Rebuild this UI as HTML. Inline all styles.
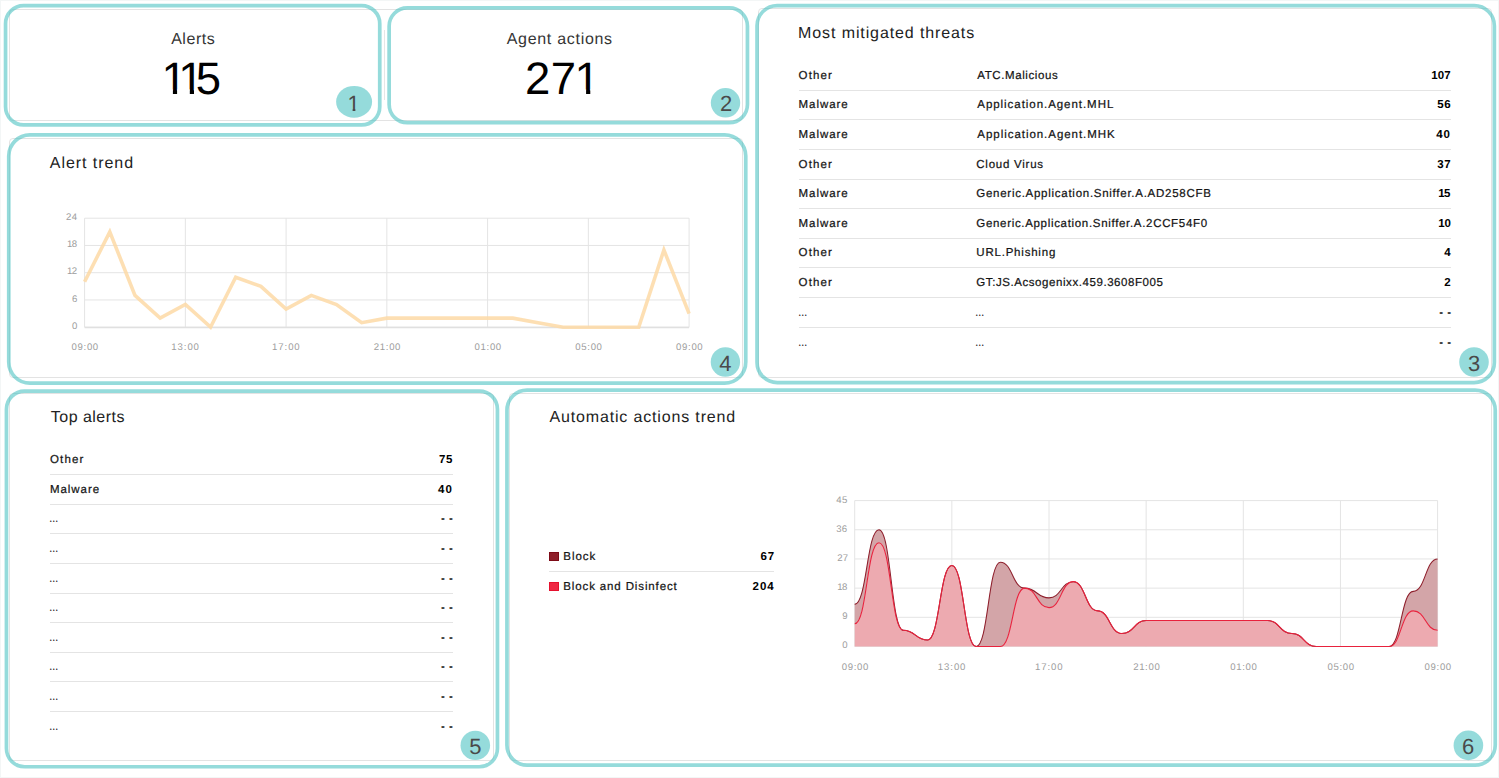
<!DOCTYPE html><html><head><meta charset="utf-8"><title>Dashboard</title><style>
*{box-sizing:border-box;margin:0;padding:0}
html,body{width:1499px;height:778px;overflow:hidden;background:#fff}
body{position:relative;font-family:"Liberation Sans", sans-serif;color:#1d1d1d;text-rendering:geometricPrecision}
.edge{position:absolute;left:0;top:0;width:1499px;height:778px;border:1px solid #f3f6f6;pointer-events:none}
.card{position:absolute;border:1px solid #e3e3e3;border-radius:4px;background:#fff}
.t{position:absolute;white-space:nowrap;line-height:1;z-index:3}
svg text{font-family:"Liberation Sans", sans-serif}

</style></head><body>
<div class="edge"></div>
<div class="card" style="left:9px;top:9px;width:734px;height:112px"></div>
<div class="card" style="left:9px;top:138px;width:734px;height:240px"></div>
<div class="card" style="left:758px;top:8px;width:734px;height:370px"></div>
<div class="card" style="left:9px;top:393px;width:485px;height:368px"></div>
<div class="card" style="left:509px;top:393px;width:983px;height:368px"></div>
<div style="position:absolute;left:384px;top:30px;width:1px;height:70px;background:#e6e6e6"></div>
<div style="position:absolute;left:798.7px;top:90px;width:652.3px;height:1px;background:#e4e4e4"></div>
<div style="position:absolute;left:798.7px;top:119px;width:652.3px;height:1px;background:#e4e4e4"></div>
<div style="position:absolute;left:798.7px;top:149px;width:652.3px;height:1px;background:#e4e4e4"></div>
<div style="position:absolute;left:798.7px;top:179px;width:652.3px;height:1px;background:#e4e4e4"></div>
<div style="position:absolute;left:798.7px;top:208px;width:652.3px;height:1px;background:#e4e4e4"></div>
<div style="position:absolute;left:798.7px;top:238px;width:652.3px;height:1px;background:#e4e4e4"></div>
<div style="position:absolute;left:798.7px;top:267px;width:652.3px;height:1px;background:#e4e4e4"></div>
<div style="position:absolute;left:798.7px;top:297px;width:652.3px;height:1px;background:#e4e4e4"></div>
<div style="position:absolute;left:798.7px;top:327px;width:652.3px;height:1px;background:#e4e4e4"></div>
<div style="position:absolute;left:49.9px;top:474px;width:402.9px;height:1px;background:#e4e4e4"></div>
<div style="position:absolute;left:49.9px;top:504px;width:402.9px;height:1px;background:#e4e4e4"></div>
<div style="position:absolute;left:49.9px;top:533px;width:402.9px;height:1px;background:#e4e4e4"></div>
<div style="position:absolute;left:49.9px;top:563px;width:402.9px;height:1px;background:#e4e4e4"></div>
<div style="position:absolute;left:49.9px;top:593px;width:402.9px;height:1px;background:#e4e4e4"></div>
<div style="position:absolute;left:49.9px;top:622px;width:402.9px;height:1px;background:#e4e4e4"></div>
<div style="position:absolute;left:49.9px;top:652px;width:402.9px;height:1px;background:#e4e4e4"></div>
<div style="position:absolute;left:49.9px;top:681px;width:402.9px;height:1px;background:#e4e4e4"></div>
<div style="position:absolute;left:49.9px;top:711px;width:402.9px;height:1px;background:#e4e4e4"></div>
<div style="position:absolute;left:549.3px;top:571px;width:224.8px;height:1px;background:#e4e4e4"></div>
<div style="position:absolute;left:549.2px;top:552.1px;width:9.6px;height:8.8px;background:#8f1f2a;border:1px solid #7d0b17"></div>
<div style="position:absolute;left:549.2px;top:581.8px;width:9.6px;height:8.9px;background:#ef2944;border:1px solid #e5112e"></div>
<div class="t" style="left:171.15px;top:32px;font-size:16px;letter-spacing:0.54px;color:#353535">Alerts</div>
<div class="t" style="left:506.65px;top:32px;font-size:16px;letter-spacing:0.71px;color:#353535">Agent actions</div>
<div class="t" style="left:161.4px;top:56px;font-size:45.5px;letter-spacing:0px;color:#000;clip-path:polygon(0 0,100% 0,100% 33.4px,15.7px 33.4px,15.7px 100%,11.5px 100%,11.5px 33.4px,0 33.4px)">1</div>
<div class="t" style="left:178.3px;top:56px;font-size:45.5px;letter-spacing:0px;color:#000;clip-path:polygon(0 0,100% 0,100% 33.4px,15.7px 33.4px,15.7px 100%,11.5px 100%,11.5px 33.4px,0 33.4px)">1</div>
<div class="t" style="left:195.75px;top:56px;font-size:45.5px;letter-spacing:0px;color:#000">5</div>
<div class="t" style="left:525.05px;top:56px;font-size:45.5px;letter-spacing:0px;color:#000">2</div>
<div class="t" style="left:550.75px;top:56px;font-size:45.5px;letter-spacing:0px;color:#000">7</div>
<div class="t" style="left:574.6px;top:56px;font-size:45.5px;letter-spacing:0px;color:#000;clip-path:polygon(0 0,100% 0,100% 33.4px,15.7px 33.4px,15.7px 100%,11.5px 100%,11.5px 33.4px,0 33.4px)">1</div>
<div class="t" style="left:798.1px;top:26px;font-size:16px;letter-spacing:0.89px;color:#222">Most mitigated threats</div>
<div class="t" style="left:49.8px;top:156px;font-size:16px;letter-spacing:0.95px;color:#222">Alert trend</div>
<div class="t" style="left:50.8px;top:410px;font-size:16px;letter-spacing:0.47px;color:#222">Top alerts</div>
<div class="t" style="left:549.5px;top:410px;font-size:16px;letter-spacing:0.84px;color:#222">Automatic actions trend</div>
<div class="t" style="left:798.6px;top:71.4px;font-size:11.5px;letter-spacing:1.12px;color:#141414;-webkit-text-stroke:0.22px #141414">Other</div>
<div class="t" style="left:977.3px;top:71.4px;font-size:11.5px;letter-spacing:0.6px;color:#141414;-webkit-text-stroke:0.22px #141414">ATC.Malicious</div>
<div class="t" style="left:1431.2px;top:71.4px;font-size:11.5px;letter-spacing:0.13px;color:#000;font-weight:700">107</div>
<div class="t" style="left:798.6px;top:100.4px;font-size:11.5px;letter-spacing:0.94px;color:#141414;-webkit-text-stroke:0.22px #141414">Malware</div>
<div class="t" style="left:977.3px;top:100.4px;font-size:11.5px;letter-spacing:0.95px;color:#141414;-webkit-text-stroke:0.22px #141414">Application.Agent.MHL</div>
<div class="t" style="left:1437.2px;top:100.4px;font-size:11.5px;letter-spacing:0.75px;color:#000;font-weight:700">56</div>
<div class="t" style="left:798.6px;top:130.4px;font-size:11.5px;letter-spacing:0.94px;color:#141414;-webkit-text-stroke:0.22px #141414">Malware</div>
<div class="t" style="left:977.3px;top:130.4px;font-size:11.5px;letter-spacing:0.96px;color:#141414;-webkit-text-stroke:0.22px #141414">Application.Agent.MHK</div>
<div class="t" style="left:1436.2px;top:130.4px;font-size:11.5px;letter-spacing:1px;color:#000;font-weight:700">40</div>
<div class="t" style="left:798.6px;top:160.4px;font-size:11.5px;letter-spacing:1.12px;color:#141414;-webkit-text-stroke:0.22px #141414">Other</div>
<div class="t" style="left:976.3px;top:160.4px;font-size:11.5px;letter-spacing:0.75px;color:#141414;-webkit-text-stroke:0.22px #141414">Cloud Virus</div>
<div class="t" style="left:1437.2px;top:160.4px;font-size:11.5px;letter-spacing:0.58px;color:#000;font-weight:700">37</div>
<div class="t" style="left:798.6px;top:189.4px;font-size:11.5px;letter-spacing:0.94px;color:#141414;-webkit-text-stroke:0.22px #141414">Malware</div>
<div class="t" style="left:976.3px;top:189.4px;font-size:11.5px;letter-spacing:0.73px;color:#141414;-webkit-text-stroke:0.22px #141414">Generic.Application.Sniffer.A.AD258CFB</div>
<div class="t" style="left:1438.2px;top:189.4px;font-size:11.5px;letter-spacing:-0.5px;color:#000;font-weight:700">15</div>
<div class="t" style="left:798.6px;top:219.4px;font-size:11.5px;letter-spacing:0.94px;color:#141414;-webkit-text-stroke:0.22px #141414">Malware</div>
<div class="t" style="left:976.3px;top:219.4px;font-size:11.5px;letter-spacing:0.68px;color:#141414;-webkit-text-stroke:0.22px #141414">Generic.Application.Sniffer.A.2CCF54F0</div>
<div class="t" style="left:1438.2px;top:219.4px;font-size:11.5px;letter-spacing:-0.19px;color:#000;font-weight:700">10</div>
<div class="t" style="left:798.6px;top:248.4px;font-size:11.5px;letter-spacing:1.12px;color:#141414;-webkit-text-stroke:0.22px #141414">Other</div>
<div class="t" style="left:976.3px;top:248.4px;font-size:11.5px;letter-spacing:0.79px;color:#141414;-webkit-text-stroke:0.22px #141414">URL.Phishing</div>
<div class="t" style="left:1444.2px;top:248.4px;font-size:11.5px;letter-spacing:0px;color:#000;font-weight:700">4</div>
<div class="t" style="left:798.6px;top:278.4px;font-size:11.5px;letter-spacing:1.12px;color:#141414;-webkit-text-stroke:0.22px #141414">Other</div>
<div class="t" style="left:976.3px;top:278.4px;font-size:11.5px;letter-spacing:0.57px;color:#141414;-webkit-text-stroke:0.22px #141414">GT:JS.Acsogenixx.459.3608F005</div>
<div class="t" style="left:1444.2px;top:278.4px;font-size:11.5px;letter-spacing:0px;color:#000;font-weight:700">2</div>
<div class="t" style="left:797.76px;top:308.4px;font-size:11.5px;letter-spacing:0px;color:#141414;-webkit-text-stroke:0.22px #141414;transform:scaleX(0.82);transform-origin:0 0">&hellip;</div>
<div class="t" style="left:975.46px;top:308.4px;font-size:11.5px;letter-spacing:0px;color:#141414;-webkit-text-stroke:0.22px #141414;transform:scaleX(0.82);transform-origin:0 0">&hellip;</div>
<div class="t" style="left:1439.2px;top:308.4px;font-size:11.5px;letter-spacing:0.46px;color:#000;font-weight:700">- -</div>
<div class="t" style="left:797.76px;top:338.4px;font-size:11.5px;letter-spacing:0px;color:#141414;-webkit-text-stroke:0.22px #141414;transform:scaleX(0.82);transform-origin:0 0">&hellip;</div>
<div class="t" style="left:975.46px;top:338.4px;font-size:11.5px;letter-spacing:0px;color:#141414;-webkit-text-stroke:0.22px #141414;transform:scaleX(0.82);transform-origin:0 0">&hellip;</div>
<div class="t" style="left:1439.2px;top:338.4px;font-size:11.5px;letter-spacing:0.46px;color:#000;font-weight:700">- -</div>
<div class="t" style="left:50px;top:455.4px;font-size:11.5px;letter-spacing:1.12px;color:#141414;-webkit-text-stroke:0.22px #141414">Other</div>
<div class="t" style="left:439.1px;top:455.4px;font-size:11.5px;letter-spacing:0.56px;color:#000;font-weight:700">75</div>
<div class="t" style="left:50px;top:485.4px;font-size:11.5px;letter-spacing:0.94px;color:#141414;-webkit-text-stroke:0.22px #141414">Malware</div>
<div class="t" style="left:438.1px;top:485.4px;font-size:11.5px;letter-spacing:1px;color:#000;font-weight:700">40</div>
<div class="t" style="left:49.16px;top:514.4px;font-size:11.5px;letter-spacing:0px;color:#141414;-webkit-text-stroke:0.22px #141414;transform:scaleX(0.82);transform-origin:0 0">&hellip;</div>
<div class="t" style="left:441.1px;top:514.4px;font-size:11.5px;letter-spacing:0.46px;color:#000;font-weight:700">- -</div>
<div class="t" style="left:49.16px;top:544.4px;font-size:11.5px;letter-spacing:0px;color:#141414;-webkit-text-stroke:0.22px #141414;transform:scaleX(0.82);transform-origin:0 0">&hellip;</div>
<div class="t" style="left:441.1px;top:544.4px;font-size:11.5px;letter-spacing:0.46px;color:#000;font-weight:700">- -</div>
<div class="t" style="left:49.16px;top:574.4px;font-size:11.5px;letter-spacing:0px;color:#141414;-webkit-text-stroke:0.22px #141414;transform:scaleX(0.82);transform-origin:0 0">&hellip;</div>
<div class="t" style="left:441.1px;top:574.4px;font-size:11.5px;letter-spacing:0.46px;color:#000;font-weight:700">- -</div>
<div class="t" style="left:49.16px;top:603.4px;font-size:11.5px;letter-spacing:0px;color:#141414;-webkit-text-stroke:0.22px #141414;transform:scaleX(0.82);transform-origin:0 0">&hellip;</div>
<div class="t" style="left:441.1px;top:603.4px;font-size:11.5px;letter-spacing:0.46px;color:#000;font-weight:700">- -</div>
<div class="t" style="left:49.16px;top:633.4px;font-size:11.5px;letter-spacing:0px;color:#141414;-webkit-text-stroke:0.22px #141414;transform:scaleX(0.82);transform-origin:0 0">&hellip;</div>
<div class="t" style="left:441.1px;top:633.4px;font-size:11.5px;letter-spacing:0.46px;color:#000;font-weight:700">- -</div>
<div class="t" style="left:49.16px;top:662.4px;font-size:11.5px;letter-spacing:0px;color:#141414;-webkit-text-stroke:0.22px #141414;transform:scaleX(0.82);transform-origin:0 0">&hellip;</div>
<div class="t" style="left:441.1px;top:662.4px;font-size:11.5px;letter-spacing:0.46px;color:#000;font-weight:700">- -</div>
<div class="t" style="left:49.16px;top:692.4px;font-size:11.5px;letter-spacing:0px;color:#141414;-webkit-text-stroke:0.22px #141414;transform:scaleX(0.82);transform-origin:0 0">&hellip;</div>
<div class="t" style="left:441.1px;top:692.4px;font-size:11.5px;letter-spacing:0.46px;color:#000;font-weight:700">- -</div>
<div class="t" style="left:49.16px;top:722.4px;font-size:11.5px;letter-spacing:0px;color:#141414;-webkit-text-stroke:0.22px #141414;transform:scaleX(0.82);transform-origin:0 0">&hellip;</div>
<div class="t" style="left:441.1px;top:722.4px;font-size:11.5px;letter-spacing:0.46px;color:#000;font-weight:700">- -</div>
<div class="t" style="left:563.3px;top:551.6px;font-size:11.5px;letter-spacing:0.98px;color:#141414;-webkit-text-stroke:0.22px #141414">Block</div>
<div class="t" style="left:760.5px;top:551.6px;font-size:11.5px;letter-spacing:0.88px;color:#000;font-weight:700">67</div>
<div class="t" style="left:563.3px;top:581.6px;font-size:11.5px;letter-spacing:0.87px;color:#141414;-webkit-text-stroke:0.22px #141414">Block and Disinfect</div>
<div class="t" style="left:752.5px;top:581.6px;font-size:11.5px;letter-spacing:1px;color:#000;font-weight:700">204</div>
<div class="t" style="left:72px;top:322px;font-size:9.6px;letter-spacing:0px;color:#9d9d9d">0</div>
<div class="t" style="left:72px;top:295px;font-size:9.6px;letter-spacing:0px;color:#9d9d9d">6</div>
<div class="t" style="left:67px;top:267px;font-size:9.6px;letter-spacing:-0.5px;color:#9d9d9d">12</div>
<div class="t" style="left:67px;top:240px;font-size:9.6px;letter-spacing:-0.5px;color:#9d9d9d">18</div>
<div class="t" style="left:66px;top:213px;font-size:9.6px;letter-spacing:0.45px;color:#9d9d9d">24</div>
<div class="t" style="left:71.6px;top:343px;font-size:9.6px;letter-spacing:0.65px;color:#9d9d9d">09:00</div>
<div class="t" style="left:171.35px;top:343px;font-size:9.6px;letter-spacing:0.9px;color:#9d9d9d">13:00</div>
<div class="t" style="left:272.1px;top:343px;font-size:9.6px;letter-spacing:0.9px;color:#9d9d9d">17:00</div>
<div class="t" style="left:373.85px;top:343px;font-size:9.6px;letter-spacing:0.65px;color:#9d9d9d">21:00</div>
<div class="t" style="left:474.6px;top:343px;font-size:9.6px;letter-spacing:0.65px;color:#9d9d9d">01:00</div>
<div class="t" style="left:575.35px;top:343px;font-size:9.6px;letter-spacing:0.65px;color:#9d9d9d">05:00</div>
<div class="t" style="left:676.1px;top:343px;font-size:9.6px;letter-spacing:0.65px;color:#9d9d9d">09:00</div>
<div class="t" style="left:842.2px;top:641px;font-size:9.6px;letter-spacing:0px;color:#9d9d9d">0</div>
<div class="t" style="left:842.2px;top:612px;font-size:9.6px;letter-spacing:0px;color:#9d9d9d">9</div>
<div class="t" style="left:837.2px;top:583px;font-size:9.6px;letter-spacing:-0.5px;color:#9d9d9d">18</div>
<div class="t" style="left:837.2px;top:554px;font-size:9.6px;letter-spacing:0.21px;color:#9d9d9d">27</div>
<div class="t" style="left:836.2px;top:525px;font-size:9.6px;letter-spacing:0.3px;color:#9d9d9d">36</div>
<div class="t" style="left:836.2px;top:496px;font-size:9.6px;letter-spacing:0.55px;color:#9d9d9d">45</div>
<div class="t" style="left:841.7px;top:663px;font-size:9.6px;letter-spacing:0.65px;color:#9d9d9d">09:00</div>
<div class="t" style="left:937.85px;top:663px;font-size:9.6px;letter-spacing:0.9px;color:#9d9d9d">13:00</div>
<div class="t" style="left:1035px;top:663px;font-size:9.6px;letter-spacing:0.9px;color:#9d9d9d">17:00</div>
<div class="t" style="left:1133.15px;top:663px;font-size:9.6px;letter-spacing:0.65px;color:#9d9d9d">21:00</div>
<div class="t" style="left:1230.3px;top:663px;font-size:9.6px;letter-spacing:0.65px;color:#9d9d9d">01:00</div>
<div class="t" style="left:1327.45px;top:663px;font-size:9.6px;letter-spacing:0.65px;color:#9d9d9d">05:00</div>
<div class="t" style="left:1424.6px;top:663px;font-size:9.6px;letter-spacing:0.65px;color:#9d9d9d">09:00</div>
<div class="t" style="left:347.4px;top:93px;font-size:22px;letter-spacing:0px;color:#4a4a4a;clip-path:polygon(0 0,100% 0,100% 16px,8px 16px,8px 100%,5.2px 100%,5.2px 16px,0 16px)">1</div>
<div class="t" style="left:719.9px;top:93px;font-size:22px;letter-spacing:0px;color:#4a4a4a">2</div>
<div class="t" style="left:1467.9px;top:353px;font-size:22px;letter-spacing:0px;color:#4a4a4a">3</div>
<div class="t" style="left:719.3px;top:353px;font-size:22px;letter-spacing:0px;color:#4a4a4a">4</div>
<div class="t" style="left:469.3px;top:736px;font-size:22px;letter-spacing:0px;color:#4a4a4a">5</div>
<div class="t" style="left:1461.9px;top:736px;font-size:22px;letter-spacing:0px;color:#4a4a4a">6</div>
<svg style="position:absolute;left:0;top:0" width="1499" height="778" viewBox="0 0 1499 778"><line x1="84.6" y1="327.2" x2="689.1" y2="327.2" stroke="#e4e4e4" stroke-width="1"/><line x1="84.6" y1="299.95" x2="689.1" y2="299.95" stroke="#e4e4e4" stroke-width="1"/><line x1="84.6" y1="272.7" x2="689.1" y2="272.7" stroke="#e4e4e4" stroke-width="1"/><line x1="84.6" y1="245.45" x2="689.1" y2="245.45" stroke="#e4e4e4" stroke-width="1"/><line x1="84.6" y1="218.2" x2="689.1" y2="218.2" stroke="#e4e4e4" stroke-width="1"/><line x1="84.6" y1="218.2" x2="84.6" y2="327.2" stroke="#e4e4e4" stroke-width="1"/><line x1="185.35" y1="218.2" x2="185.35" y2="327.2" stroke="#e4e4e4" stroke-width="1"/><line x1="286.1" y1="218.2" x2="286.1" y2="327.2" stroke="#e4e4e4" stroke-width="1"/><line x1="386.85" y1="218.2" x2="386.85" y2="327.2" stroke="#e4e4e4" stroke-width="1"/><line x1="487.6" y1="218.2" x2="487.6" y2="327.2" stroke="#e4e4e4" stroke-width="1"/><line x1="588.35" y1="218.2" x2="588.35" y2="327.2" stroke="#e4e4e4" stroke-width="1"/><line x1="689.1" y1="218.2" x2="689.1" y2="327.2" stroke="#e4e4e4" stroke-width="1"/><line x1="84.6" y1="327.5" x2="689.1" y2="327.5" stroke="#e0e0e0" stroke-width="1.6"/><polyline points="84.6,281.78 109.79,231.82 134.97,295.41 160.16,318.12 185.35,304.49 210.54,327.2 235.72,277.24 260.91,286.32 286.1,309.03 311.29,295.41 336.48,304.49 361.66,322.66 386.85,318.12 412.04,318.12 437.23,318.12 462.41,318.12 487.6,318.12 512.79,318.12 537.98,322.66 563.16,327.2 588.35,327.2 613.54,327.2 638.73,327.2 663.91,249.99 689.1,313.57" fill="none" stroke="#fdd9a6" stroke-opacity="0.85" stroke-width="3.6" stroke-linejoin="miter"/><line x1="854.7" y1="646.5" x2="1437.6" y2="646.5" stroke="#e4e4e4" stroke-width="1"/><line x1="854.7" y1="617.32" x2="1437.6" y2="617.32" stroke="#e4e4e4" stroke-width="1"/><line x1="854.7" y1="588.14" x2="1437.6" y2="588.14" stroke="#e4e4e4" stroke-width="1"/><line x1="854.7" y1="558.96" x2="1437.6" y2="558.96" stroke="#e4e4e4" stroke-width="1"/><line x1="854.7" y1="529.78" x2="1437.6" y2="529.78" stroke="#e4e4e4" stroke-width="1"/><line x1="854.7" y1="500.6" x2="1437.6" y2="500.6" stroke="#e4e4e4" stroke-width="1"/><line x1="854.7" y1="500.6" x2="854.7" y2="646.5" stroke="#e4e4e4" stroke-width="1"/><line x1="951.85" y1="500.6" x2="951.85" y2="646.5" stroke="#e4e4e4" stroke-width="1"/><line x1="1049" y1="500.6" x2="1049" y2="646.5" stroke="#e4e4e4" stroke-width="1"/><line x1="1146.15" y1="500.6" x2="1146.15" y2="646.5" stroke="#e4e4e4" stroke-width="1"/><line x1="1243.3" y1="500.6" x2="1243.3" y2="646.5" stroke="#e4e4e4" stroke-width="1"/><line x1="1340.45" y1="500.6" x2="1340.45" y2="646.5" stroke="#e4e4e4" stroke-width="1"/><line x1="1437.6" y1="500.6" x2="1437.6" y2="646.5" stroke="#e4e4e4" stroke-width="1"/><path d="M854.7 604.35 C866.84 604.35 866.84 529.78 878.99 529.78 C891.13 529.78 891.13 630.29 903.28 630.29 C915.42 630.29 915.42 640.02 927.56 640.02 C939.71 640.02 939.71 565.44 951.85 565.44 C963.99 565.44 963.99 646.5 976.14 646.5 C988.28 646.5 988.28 562.2 1000.42 562.2 C1012.57 562.2 1012.57 588.14 1024.71 588.14 C1036.86 588.14 1036.86 597.87 1049 597.87 C1061.14 597.87 1061.14 581.66 1073.29 581.66 C1085.43 581.66 1085.43 610.84 1097.58 610.84 C1109.72 610.84 1109.72 633.53 1121.86 633.53 C1134.01 633.53 1134.01 620.56 1146.15 620.56 C1158.29 620.56 1158.29 620.56 1170.44 620.56 C1182.58 620.56 1182.58 620.56 1194.72 620.56 C1206.87 620.56 1206.87 620.56 1219.01 620.56 C1231.16 620.56 1231.16 620.56 1243.3 620.56 C1255.44 620.56 1255.44 620.56 1267.59 620.56 C1279.73 620.56 1279.73 633.53 1291.88 633.53 C1304.02 633.53 1304.02 646.5 1316.16 646.5 C1328.31 646.5 1328.31 646.5 1340.45 646.5 C1352.59 646.5 1352.59 646.5 1364.74 646.5 C1376.88 646.5 1376.88 646.5 1389.03 646.5 C1401.17 646.5 1401.17 591.38 1413.31 591.38 C1425.46 591.38 1425.46 558.96 1437.6 558.96 L1437.6 630.29 C1425.46 630.29 1425.46 610.84 1413.31 610.84 C1401.17 610.84 1401.17 646.5 1389.03 646.5 C1376.88 646.5 1376.88 646.5 1364.74 646.5 C1352.59 646.5 1352.59 646.5 1340.45 646.5 C1328.31 646.5 1328.31 646.5 1316.16 646.5 C1304.02 646.5 1304.02 633.53 1291.88 633.53 C1279.73 633.53 1279.73 620.56 1267.59 620.56 C1255.44 620.56 1255.44 620.56 1243.3 620.56 C1231.16 620.56 1231.16 620.56 1219.01 620.56 C1206.87 620.56 1206.87 620.56 1194.72 620.56 C1182.58 620.56 1182.58 620.56 1170.44 620.56 C1158.29 620.56 1158.29 620.56 1146.15 620.56 C1134.01 620.56 1134.01 633.53 1121.86 633.53 C1109.72 633.53 1109.72 610.84 1097.58 610.84 C1085.43 610.84 1085.43 581.66 1073.29 581.66 C1061.14 581.66 1061.14 607.59 1049 607.59 C1036.86 607.59 1036.86 588.14 1024.71 588.14 C1012.57 588.14 1012.57 646.5 1000.42 646.5 C988.28 646.5 988.28 646.5 976.14 646.5 C963.99 646.5 963.99 565.44 951.85 565.44 C939.71 565.44 939.71 640.02 927.56 640.02 C915.42 640.02 915.42 630.29 903.28 630.29 C891.13 630.29 891.13 542.75 878.99 542.75 C866.84 542.75 866.84 623.8 854.7 623.8 Z" fill="#d3a5a8" stroke="none"/><path d="M854.7 623.8 C866.84 623.8 866.84 542.75 878.99 542.75 C891.13 542.75 891.13 630.29 903.28 630.29 C915.42 630.29 915.42 640.02 927.56 640.02 C939.71 640.02 939.71 565.44 951.85 565.44 C963.99 565.44 963.99 646.5 976.14 646.5 C988.28 646.5 988.28 646.5 1000.42 646.5 C1012.57 646.5 1012.57 588.14 1024.71 588.14 C1036.86 588.14 1036.86 607.59 1049 607.59 C1061.14 607.59 1061.14 581.66 1073.29 581.66 C1085.43 581.66 1085.43 610.84 1097.58 610.84 C1109.72 610.84 1109.72 633.53 1121.86 633.53 C1134.01 633.53 1134.01 620.56 1146.15 620.56 C1158.29 620.56 1158.29 620.56 1170.44 620.56 C1182.58 620.56 1182.58 620.56 1194.72 620.56 C1206.87 620.56 1206.87 620.56 1219.01 620.56 C1231.16 620.56 1231.16 620.56 1243.3 620.56 C1255.44 620.56 1255.44 620.56 1267.59 620.56 C1279.73 620.56 1279.73 633.53 1291.88 633.53 C1304.02 633.53 1304.02 646.5 1316.16 646.5 C1328.31 646.5 1328.31 646.5 1340.45 646.5 C1352.59 646.5 1352.59 646.5 1364.74 646.5 C1376.88 646.5 1376.88 646.5 1389.03 646.5 C1401.17 646.5 1401.17 610.84 1413.31 610.84 C1425.46 610.84 1425.46 630.29 1437.6 630.29 L1437.6 646.5 L854.7 646.5 Z" fill="#edaab0" stroke="none"/><path d="M854.7 604.35 C866.84 604.35 866.84 529.78 878.99 529.78 C891.13 529.78 891.13 630.29 903.28 630.29 C915.42 630.29 915.42 640.02 927.56 640.02 C939.71 640.02 939.71 565.44 951.85 565.44 C963.99 565.44 963.99 646.5 976.14 646.5 C988.28 646.5 988.28 562.2 1000.42 562.2 C1012.57 562.2 1012.57 588.14 1024.71 588.14 C1036.86 588.14 1036.86 597.87 1049 597.87 C1061.14 597.87 1061.14 581.66 1073.29 581.66 C1085.43 581.66 1085.43 610.84 1097.58 610.84 C1109.72 610.84 1109.72 633.53 1121.86 633.53 C1134.01 633.53 1134.01 620.56 1146.15 620.56 C1158.29 620.56 1158.29 620.56 1170.44 620.56 C1182.58 620.56 1182.58 620.56 1194.72 620.56 C1206.87 620.56 1206.87 620.56 1219.01 620.56 C1231.16 620.56 1231.16 620.56 1243.3 620.56 C1255.44 620.56 1255.44 620.56 1267.59 620.56 C1279.73 620.56 1279.73 633.53 1291.88 633.53 C1304.02 633.53 1304.02 646.5 1316.16 646.5 C1328.31 646.5 1328.31 646.5 1340.45 646.5 C1352.59 646.5 1352.59 646.5 1364.74 646.5 C1376.88 646.5 1376.88 646.5 1389.03 646.5 C1401.17 646.5 1401.17 591.38 1413.31 591.38 C1425.46 591.38 1425.46 558.96 1437.6 558.96" fill="none" stroke="#8e1f2c" stroke-width="1.05"/><path d="M854.7 623.8 C866.84 623.8 866.84 542.75 878.99 542.75 C891.13 542.75 891.13 630.29 903.28 630.29 C915.42 630.29 915.42 640.02 927.56 640.02 C939.71 640.02 939.71 565.44 951.85 565.44 C963.99 565.44 963.99 646.5 976.14 646.5 C988.28 646.5 988.28 646.5 1000.42 646.5 C1012.57 646.5 1012.57 588.14 1024.71 588.14 C1036.86 588.14 1036.86 607.59 1049 607.59 C1061.14 607.59 1061.14 581.66 1073.29 581.66 C1085.43 581.66 1085.43 610.84 1097.58 610.84 C1109.72 610.84 1109.72 633.53 1121.86 633.53 C1134.01 633.53 1134.01 620.56 1146.15 620.56 C1158.29 620.56 1158.29 620.56 1170.44 620.56 C1182.58 620.56 1182.58 620.56 1194.72 620.56 C1206.87 620.56 1206.87 620.56 1219.01 620.56 C1231.16 620.56 1231.16 620.56 1243.3 620.56 C1255.44 620.56 1255.44 620.56 1267.59 620.56 C1279.73 620.56 1279.73 633.53 1291.88 633.53 C1304.02 633.53 1304.02 646.5 1316.16 646.5 C1328.31 646.5 1328.31 646.5 1340.45 646.5 C1352.59 646.5 1352.59 646.5 1364.74 646.5 C1376.88 646.5 1376.88 646.5 1389.03 646.5 C1401.17 646.5 1401.17 610.84 1413.31 610.84 C1425.46 610.84 1425.46 630.29 1437.6 630.29" fill="none" stroke="#e8223d" stroke-width="1.1"/></svg>
<svg style="position:absolute;left:0;top:0;pointer-events:none;z-index:2" width="1499" height="778" viewBox="0 0 1499 778"><rect x="5.55" y="5.55" width="374.2" height="119.4" rx="18.15" fill="none" stroke="rgba(66,191,190,0.56)" stroke-width="3.7"/><rect x="389.15" y="7.95" width="358.3" height="114.7" rx="18.15" fill="none" stroke="rgba(66,191,190,0.56)" stroke-width="3.7"/><rect x="757.05" y="5.65" width="737.3" height="376.9" rx="20.15" fill="none" stroke="rgba(66,191,190,0.56)" stroke-width="3.7"/><rect x="8.75" y="134.95" width="737" height="248.2" rx="21.15" fill="none" stroke="rgba(66,191,190,0.56)" stroke-width="3.7"/><rect x="6.45" y="391.05" width="491" height="375.7" rx="18.15" fill="none" stroke="rgba(66,191,190,0.56)" stroke-width="3.7"/><rect x="506.95" y="390.15" width="988.3" height="375" rx="20.15" fill="none" stroke="rgba(66,191,190,0.56)" stroke-width="3.7"/><ellipse cx="354.1" cy="101.8" rx="18" ry="15.9" fill="rgba(66,191,190,0.56)"/><ellipse cx="725.5" cy="102.8" rx="14.7" ry="14.7" fill="rgba(66,191,190,0.56)"/><ellipse cx="1474" cy="362" rx="14.8" ry="14.8" fill="rgba(66,191,190,0.56)"/><ellipse cx="725.4" cy="362" rx="14.7" ry="14.8" fill="rgba(66,191,190,0.56)"/><ellipse cx="475.3" cy="745.4" rx="14.8" ry="14.7" fill="rgba(66,191,190,0.56)"/><ellipse cx="1468.4" cy="745.4" rx="14.8" ry="14.8" fill="rgba(66,191,190,0.56)"/></svg>
</body></html>
